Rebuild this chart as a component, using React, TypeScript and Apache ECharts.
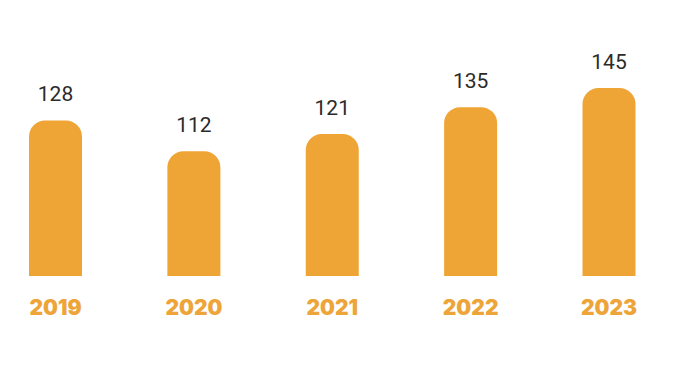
import React, { useEffect, useRef } from "react";
import * as echarts from "echarts";

const years = ["2019", "2020", "2021", "2022", "2023"];
const values = [128, 112, 121, 135, 145];

export default function App() {
  const ref = useRef<HTMLDivElement>(null);
  useEffect(() => {
    if (!ref.current) return;
    const chart = echarts.init(ref.current, null, { renderer: "svg" });
    chart.setOption({
      animation: false,
      backgroundColor: "#ffffff",
      grid: { left: 55.5, right: 69, top: 88, bottom: 110, containLabel: false },
      xAxis: {
        type: "category",
        data: years,
        boundaryGap: false,
        axisLine: { show: false },
        axisTick: { show: false },
        axisLabel: {
          margin: 21,
          color: "#EDA53A",
          fontSize: 21,
          fontWeight: 900,
          fontFamily: "Inter, Roboto, 'Noto Sans', sans-serif",
        },
      },
      yAxis: {
        type: "value",
        min: 47,
        max: 145,
        show: false,
        splitLine: { show: false },
      },
      series: [
        {
          type: "bar",
          data: values,
          barWidth: 53,
          itemStyle: { color: "#EEA536", borderRadius: [16, 16, 0, 0] },
          label: {
            show: true,
            position: "top",
            distance: 16,
            color: "#2b2b2b",
            fontSize: 21,
            fontFamily: "Roboto, 'Noto Sans', sans-serif",
          },
        },
      ],
    });
    return () => chart.dispose();
  }, []);
  return (
    <div
      ref={ref}
      style={{ position: "absolute", left: 0, top: 0, width: 678, height: 386 }}
    />
  );
}
